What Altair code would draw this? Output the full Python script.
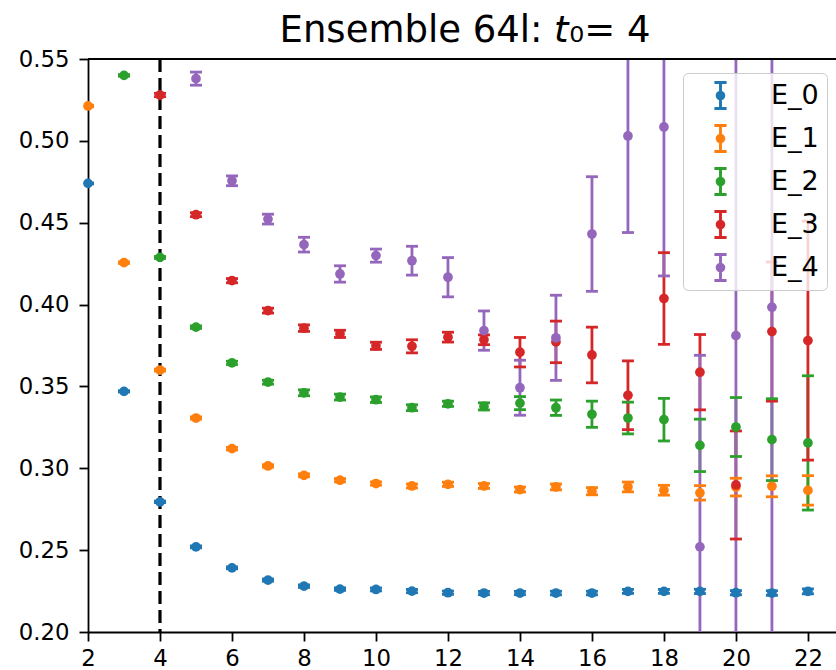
import altair as alt
import pandas as pd

series_names = ["E_0", "E_1", "E_2", "E_3", "E_4"]
colors = ["#1f77b4", "#ff7f0e", "#2ca02c", "#d62728", "#9467bd"]

e0_t = list(range(2, 23))
e0_val = [0.474, 0.347, 0.2795, 0.252, 0.2392, 0.2317, 0.228, 0.2262, 0.2260, 0.2250,
          0.2240, 0.2238, 0.2238, 0.2238, 0.2238, 0.2248, 0.2248, 0.2248, 0.2240, 0.2238, 0.2248]
e0_err = [0.0003, 0.0004, 0.0005, 0.0006, 0.0006, 0.0007, 0.0008, 0.0008, 0.0009, 0.001,
          0.001, 0.001, 0.001, 0.0011, 0.0011, 0.0012, 0.0012, 0.0013, 0.0013, 0.0014, 0.0015]

e1_t = list(range(2, 23))
e1_val = [0.5213, 0.4256, 0.360, 0.3307, 0.312, 0.3014, 0.2957, 0.2927, 0.2907, 0.2892,
          0.2902, 0.2892, 0.2870, 0.2886, 0.2860, 0.2886, 0.2866, 0.2850, 0.2885, 0.2890, 0.2865]
e1_err = [0.0005, 0.0005, 0.0006, 0.0007, 0.0008, 0.0008, 0.0009, 0.001, 0.001, 0.0012,
          0.0013, 0.0015, 0.0015, 0.0018, 0.0022, 0.003, 0.003, 0.0044, 0.0054, 0.0064, 0.009]

e2_t = list(range(3, 23))
e2_val = [0.540, 0.4288, 0.3862, 0.3644, 0.3526, 0.3461, 0.3435, 0.3419, 0.3370, 0.3394,
          0.3378, 0.3398, 0.3370, 0.3330, 0.3307, 0.3297, 0.3140, 0.3252, 0.3175, 0.3155]
e2_err = [0.0005, 0.0006, 0.0008, 0.001, 0.0012, 0.0018, 0.0018, 0.0017, 0.0018, 0.0016,
          0.0022, 0.004, 0.0047, 0.008, 0.0097, 0.013, 0.016, 0.018, 0.025, 0.041]

e3_t = list(range(4, 23))
e3_val = [0.528, 0.4549, 0.4146, 0.3963, 0.3856, 0.3821, 0.3748, 0.3745, 0.3801, 0.3785,
          0.3709, 0.3772, 0.3692, 0.3446, 0.4037, 0.3587, 0.2898, 0.3835, 0.378]
e3_err = [0.001, 0.0012, 0.0013, 0.0015, 0.002, 0.0022, 0.0022, 0.004, 0.003, 0.003,
          0.009, 0.0127, 0.017, 0.021, 0.028, 0.023, 0.033, 0.0425, 0.073]

e4_t = list(range(5, 22))
e4_val = [0.538, 0.4756, 0.4522, 0.4366, 0.4187, 0.4299, 0.4268, 0.4167, 0.3841, 0.3492,
          0.3797, 0.4431, 0.503, 0.5085, 0.252, 0.381, 0.3984]
e4_err = [0.004, 0.003, 0.003, 0.0045, 0.005, 0.004, 0.0088, 0.012, 0.012, 0.0168,
          0.026, 0.035, 0.059, 0.091, 0.117, 0.3, 0.25]

t0 = 4
x_ticks = list(range(2, 23, 2))
y_ticks = [0.20, 0.25, 0.30, 0.35, 0.40, 0.45, 0.50, 0.55]
title_text = "Ensemble 64l: 𝘵₀= 4"

rows = []
for name, ts, vals, errs in zip(series_names,
                                [e0_t, e1_t, e2_t, e3_t, e4_t],
                                [e0_val, e1_val, e2_val, e3_val, e4_val],
                                [e0_err, e1_err, e2_err, e3_err, e4_err]):
    for t, v, e in zip(ts, vals, errs):
        rows.append({"series": name, "t": t, "val": v, "lo": v - e, "hi": v + e})
df = pd.DataFrame(rows)

W, H = 748, 573
FONT = "DejaVu Sans"

xs = alt.X("t:Q", scale=alt.Scale(domain=[2, 22.78], nice=False, zero=False),
           axis=alt.Axis(values=x_ticks, format="d", title=None, labelPadding=6))
yscale = alt.Scale(domain=[0.2, 0.55], nice=False, zero=False)
yaxis = alt.Axis(values=y_ticks, format=".2f", title=None, labelPadding=10)

sym_path = ("M-0.1,-1H0.1V1H-0.1Z"
            "M-0.42,-1H0.42V-0.8H-0.42Z"
            "M-0.42,0.8H0.42V1H-0.42Z"
            "M0.33,0A0.33,0.33,0,1,1,-0.33,0A0.33,0.33,0,1,1,0.33,0Z")

legend = alt.Legend(title=None, orient="none", legendX=595, legendY=14,
                    symbolType=sym_path, symbolSize=841, symbolStrokeWidth=0,
                    symbolOpacity=1, labelFontSize=27, labelFont=FONT,
                    labelColor="black", padding=8,
                    fillColor="rgba(255,255,255,0.8)", strokeColor="#cccccc",
                    cornerRadius=5, rowPadding=14, labelOffset=36, symbolOffset=15)

dash = alt.Chart(pd.DataFrame({"t": [t0]})).mark_rule(
    color="black", strokeWidth=3.2, strokeDash=[13, 6]).encode(x=xs)

bars = alt.Chart(df).mark_rule(strokeWidth=2.8, clip=True).encode(
    x=xs, y=alt.Y("lo:Q", scale=yscale, axis=yaxis), y2="hi:Q",
    stroke=alt.Stroke("series:N", scale=alt.Scale(domain=series_names, range=colors), legend=None))

caps_lo = alt.Chart(df).mark_tick(orient="horizontal", size=12, thickness=2.8,
                                  opacity=1, clip=True).encode(
    x=xs, y=alt.Y("lo:Q", scale=yscale, axis=yaxis),
    fill=alt.Fill("series:N", scale=alt.Scale(domain=series_names, range=colors), legend=None))

caps_hi = alt.Chart(df).mark_tick(orient="horizontal", size=12, thickness=2.8,
                                  opacity=1, clip=True).encode(
    x=xs, y=alt.Y("hi:Q", scale=yscale, axis=yaxis),
    fill=alt.Fill("series:N", scale=alt.Scale(domain=series_names, range=colors), legend=None))

points = alt.Chart(df).mark_circle(size=95, opacity=1).encode(
    x=xs, y=alt.Y("val:Q", scale=yscale, axis=yaxis),
    color=alt.Color("series:N", scale=alt.Scale(domain=series_names, range=colors), legend=legend))

top_spine = alt.Chart(pd.DataFrame({"t": [0]})).mark_rule(
    color="black", strokeWidth=1.8).encode(
    x=alt.value(0), x2=alt.value(W), y=alt.value(0))

title = alt.Chart(pd.DataFrame({"label": [title_text]})).mark_text(
    font=FONT, fontSize=37, color="black", align="center", baseline="alphabetic").encode(
    text="label:N", x=alt.value(377), y=alt.value(-17))

chart = alt.layer(dash, bars, caps_lo, caps_hi, points, top_spine, title).properties(
    width=W, height=H,
    autosize=alt.AutoSizeParams(type="none"),
    padding={"left": 88, "top": 59, "right": 0, "bottom": 38},
).configure_view(stroke=None).configure_axis(
    labelFont=FONT, labelFontSize=22.8, labelColor="black", tickColor="black",
    domainColor="black", tickWidth=1.8, domainWidth=1.8, tickSize=9, grid=False,
    labelFlush=False, labelOverlap=False
).resolve_scale(stroke="independent", fill="independent", color="independent")

chart.save("out.html", embed_options={"renderer": "svg", "actions": False})
